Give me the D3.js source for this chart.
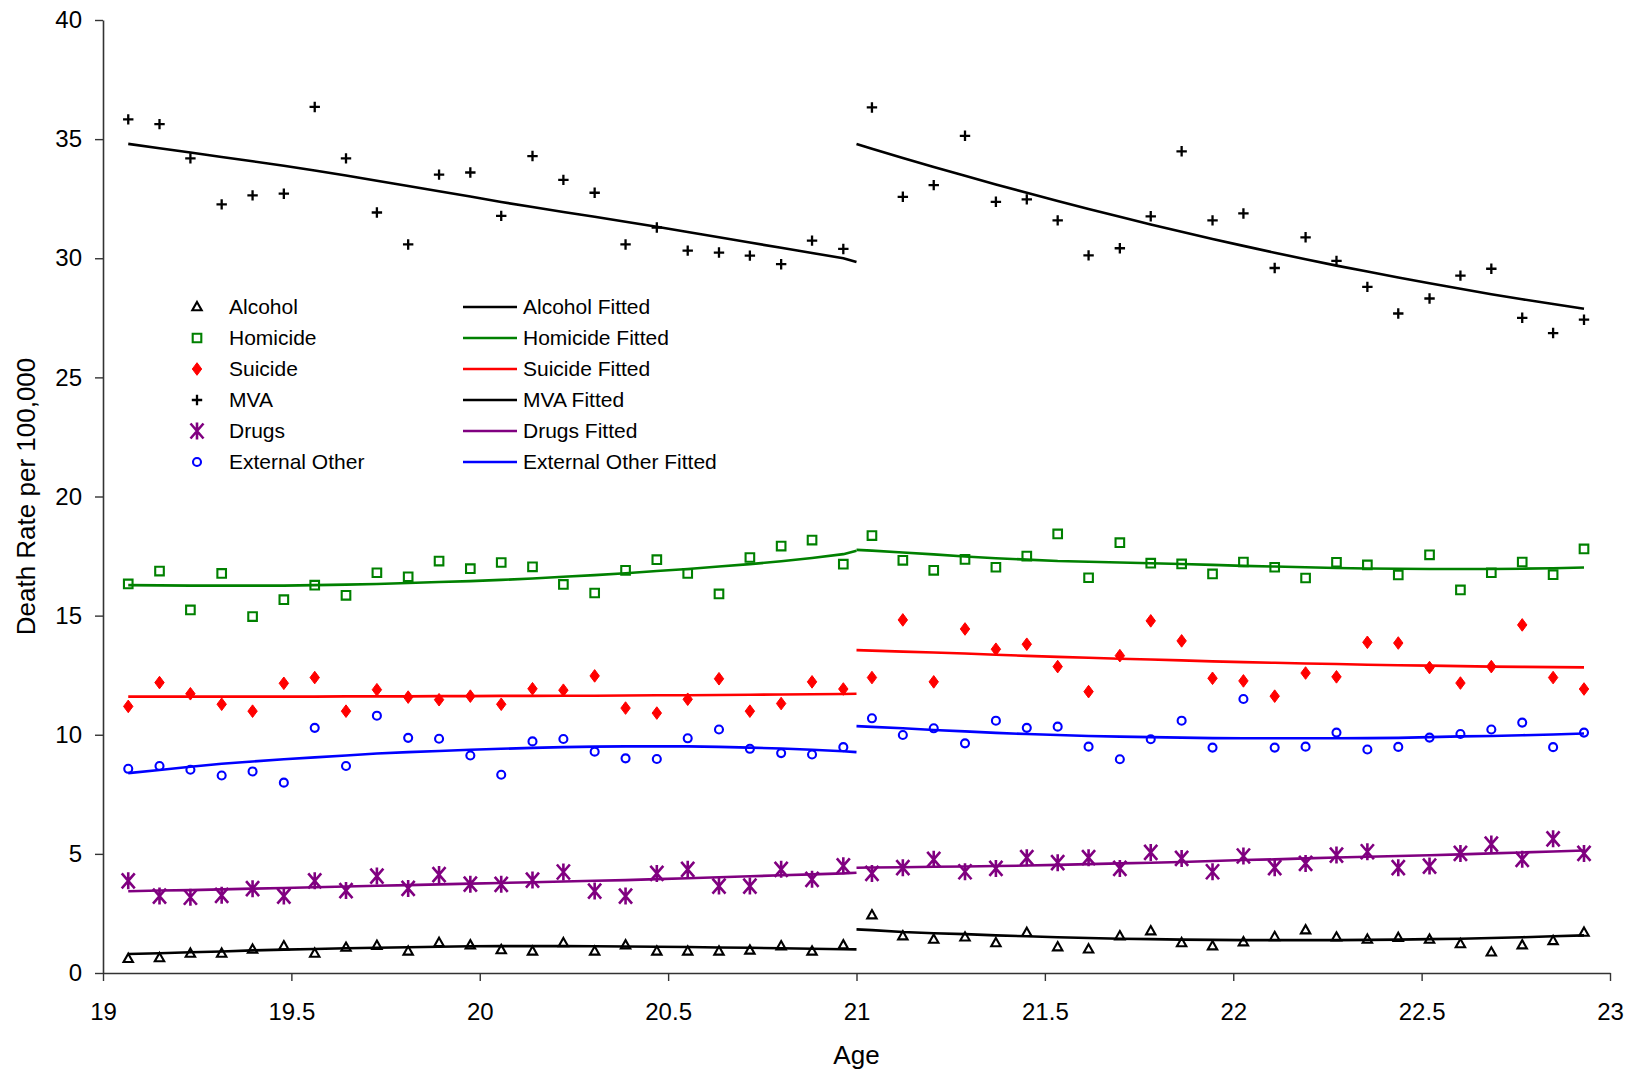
<!DOCTYPE html>
<html>
<head>
<meta charset="utf-8">
<script src="https://cdn.jsdelivr.net/npm/d3@7"></script>
<style>
  body { margin: 0; background: #fff; }
  text { font-family: "Liberation Sans", Arial, sans-serif; fill: #000; }
</style>
</head>
<body>
<div id="viz"></div>
<script>
// ages (bin midpoints) each side of 21
var ageLeft = [19.067, 19.150, 19.232, 19.315, 19.397, 19.480, 19.562, 19.645, 19.727, 19.810, 19.892, 19.975,
  20.057, 20.140, 20.222, 20.305, 20.387, 20.470, 20.552, 20.635, 20.717, 20.800, 20.882, 20.965]
var ageRight = [21.041, 21.123, 21.205, 21.288, 21.370, 21.452, 21.534, 21.616, 21.699, 21.781, 21.863, 21.945,
  22.027, 22.110, 22.192, 22.274, 22.356, 22.438, 22.521, 22.603, 22.685, 22.767, 22.849, 22.931]
var cutoff = 21

// observed rates (left 24 then right 24)
var alcohol = [0.60, 0.63, 0.82, 0.82, 0.99, 1.13, 0.82, 1.07, 1.15, 0.91, 1.27, 1.17, 0.97, 0.91, 1.26, 0.91, 1.17, 0.91, 0.91, 0.91, 0.95, 1.13, 0.91, 1.17,
  2.43, 1.55, 1.41, 1.50, 1.26, 1.69, 1.09, 1.00, 1.55, 1.76, 1.26, 1.13, 1.30, 1.52, 1.80, 1.50, 1.41, 1.48, 1.41, 1.22, 0.87, 1.17, 1.35, 1.70]
var homicide = [16.33, 16.87, 15.24, 16.77, 14.96, 15.67, 16.28, 15.85, 16.80, 16.63, 17.29, 16.97, 17.23, 17.05, 16.31, 15.95, 16.90, 17.35, 16.77, 15.91, 17.44, 17.92, 18.17, 17.16,
  18.36, 17.32, 16.90, 17.36, 17.03, 17.50, 18.43, 16.59, 18.06, 17.20, 17.17, 16.75, 17.25, 17.03, 16.58, 17.24, 17.13, 16.71, 17.55, 16.08, 16.80, 17.25, 16.72, 17.80]
var suicide = [11.19, 12.19, 11.72, 11.28, 10.99, 12.16, 12.40, 10.99, 11.89, 11.58, 11.47, 11.62, 11.28, 11.93, 11.87, 12.47, 11.12, 10.91, 11.49, 12.35, 10.99, 11.31, 12.22, 11.92,
  12.40, 14.82, 12.22, 14.44, 13.59, 13.80, 12.86, 11.81, 13.32, 14.78, 13.94, 12.37, 12.26, 11.62, 12.59, 12.43, 13.88, 13.85, 12.82, 12.17, 12.86, 14.61, 12.40, 11.92]
var mva = [35.83, 35.63, 34.19, 32.26, 32.64, 32.71, 36.35, 34.19, 31.92, 30.58, 33.51, 33.60, 31.78, 34.29, 33.29, 32.75, 30.58, 31.29, 30.32, 30.24, 30.11, 29.75, 30.74, 30.39,
  36.33, 32.58, 33.07, 35.14, 32.37, 32.47, 31.59, 30.12, 30.42, 31.76, 34.49, 31.59, 31.88, 29.59, 30.88, 29.89, 28.80, 27.68, 28.31, 29.27, 29.56, 27.50, 26.86, 27.42]
var drugs = [3.87, 3.23, 3.18, 3.26, 3.54, 3.23, 3.87, 3.46, 4.07, 3.55, 4.13, 3.73, 3.72, 3.90, 4.24, 3.44, 3.23, 4.18, 4.35, 3.65, 3.65, 4.35, 3.93, 4.50,
  4.18, 4.42, 4.77, 4.25, 4.39, 4.84, 4.63, 4.84, 4.39, 5.06, 4.81, 4.25, 4.91, 4.42, 4.60, 4.95, 5.09, 4.42, 4.49, 5.02, 5.41, 4.77, 5.63, 5.02]
var external = [8.57, 8.69, 8.53, 8.29, 8.46, 7.99, 10.29, 8.69, 10.80, 9.87, 9.83, 9.13, 8.32, 9.72, 9.82, 9.29, 9.01, 8.98, 9.85, 10.22, 9.41, 9.23, 9.17, 9.48,
  10.69, 9.99, 10.27, 9.64, 10.59, 10.29, 10.34, 9.50, 8.97, 9.81, 10.59, 9.46, 11.50, 9.46, 9.50, 10.09, 9.38, 9.49, 9.88, 10.03, 10.22, 10.51, 9.48, 10.09]

// fitted values: left = 24 ages then cutoff, right = cutoff then 24 ages
var alcFitL = [0.80, 0.83, 0.87, 0.90, 0.95, 0.98, 1.01, 1.04, 1.06, 1.08, 1.10, 1.12, 1.13, 1.13, 1.13, 1.12, 1.11, 1.10, 1.09, 1.07, 1.06, 1.04, 1.02, 1.00, 0.99]
var alcFitR = [1.83, 1.80, 1.72, 1.67, 1.63, 1.58, 1.54, 1.50, 1.47, 1.44, 1.42, 1.40, 1.39, 1.38, 1.38, 1.38, 1.38, 1.39, 1.40, 1.42, 1.44, 1.47, 1.50, 1.54, 1.58]
var homFitL = [16.28, 16.27, 16.26, 16.26, 16.26, 16.26, 16.28, 16.30, 16.33, 16.37, 16.41, 16.45, 16.50, 16.56, 16.63, 16.70, 16.78, 16.87, 16.96, 17.06, 17.16, 17.28, 17.42, 17.58, 17.72]
var homFitR = [17.76, 17.73, 17.65, 17.57, 17.48, 17.41, 17.35, 17.29, 17.26, 17.23, 17.20, 17.17, 17.13, 17.09, 17.06, 17.03, 17.00, 16.98, 16.97, 16.96, 16.96, 16.96, 16.97, 16.99, 17.02]
var sucFitL = [11.60, 11.60, 11.60, 11.60, 11.60, 11.60, 11.60, 11.61, 11.61, 11.61, 11.62, 11.62, 11.63, 11.63, 11.64, 11.64, 11.65, 11.66, 11.66, 11.67, 11.68, 11.69, 11.70, 11.71, 11.72]
var sucFitR = [13.55, 13.53, 13.49, 13.45, 13.41, 13.36, 13.31, 13.27, 13.23, 13.19, 13.16, 13.12, 13.08, 13.05, 13.02, 12.99, 12.97, 12.94, 12.92, 12.90, 12.88, 12.86, 12.85, 12.84, 12.83]
var mvaFitL = [34.80, 34.62, 34.44, 34.25, 34.07, 33.88, 33.68, 33.47, 33.25, 33.03, 32.81, 32.59, 32.36, 32.15, 31.94, 31.74, 31.53, 31.32, 31.10, 30.88, 30.66, 30.44, 30.22, 30.00, 29.84]
var mvaFitR = [34.80, 34.60, 34.21, 33.83, 33.46, 33.10, 32.75, 32.40, 32.07, 31.74, 31.42, 31.11, 30.81, 30.52, 30.23, 29.96, 29.69, 29.44, 29.19, 28.95, 28.72, 28.49, 28.28, 28.08, 27.88]
var drugFitL = [3.43, 3.46, 3.48, 3.51, 3.54, 3.57, 3.60, 3.63, 3.66, 3.69, 3.72, 3.75, 3.78, 3.81, 3.84, 3.87, 3.90, 3.94, 3.98, 4.02, 4.06, 4.10, 4.14, 4.18, 4.21]
var drugFitR = [4.42, 4.43, 4.44, 4.46, 4.47, 4.49, 4.51, 4.54, 4.57, 4.60, 4.63, 4.66, 4.70, 4.74, 4.77, 4.81, 4.85, 4.88, 4.91, 4.94, 4.98, 5.02, 5.06, 5.10, 5.14]
var extFitL = [8.39, 8.52, 8.66, 8.78, 8.88, 8.97, 9.05, 9.13, 9.21, 9.27, 9.32, 9.37, 9.41, 9.45, 9.48, 9.50, 9.51, 9.51, 9.51, 9.49, 9.46, 9.42, 9.37, 9.31, 9.27]
var extFitR = [10.36, 10.33, 10.27, 10.20, 10.14, 10.08, 10.03, 9.99, 9.95, 9.92, 9.90, 9.88, 9.86, 9.85, 9.85, 9.85, 9.85, 9.86, 9.87, 9.90, 9.93, 9.95, 9.98, 10.01, 10.05]

var xTicks = [19, 19.5, 20, 20.5, 21, 21.5, 22, 22.5, 23]
var yTicks = [0, 5, 10, 15, 20, 25, 30, 35, 40]

var series = [
  {name: "Alcohol", values: alcohol, fitL: alcFitL, fitR: alcFitR, color: "#000000", marker: "triangle"},
  {name: "Homicide", values: homicide, fitL: homFitL, fitR: homFitR, color: "#008000", marker: "square"},
  {name: "Suicide", values: suicide, fitL: sucFitL, fitR: sucFitR, color: "#FF0000", marker: "diamond"},
  {name: "MVA", values: mva, fitL: mvaFitL, fitR: mvaFitR, color: "#000000", marker: "plus"},
  {name: "Drugs", values: drugs, fitL: drugFitL, fitR: drugFitR, color: "#800080", marker: "star"},
  {name: "External Other", values: external, fitL: extFitL, fitR: extFitR, color: "#0000FF", marker: "circle"}
]

var W = 1632, H = 1073
var margin = {top: 20, left: 103, right: 22, bottom: 100}
var width = W - margin.left - margin.right
var height = H - margin.top - margin.bottom

var svg = d3.select("#viz").append("svg")
  .attr("width", W)
  .attr("height", H)

var g = svg.append("g")
  .attr("transform", "translate(" + margin.left + "," + margin.top + ")")

var xScale = d3.scaleLinear().domain([19, 23]).range([0, width])
var yScale = d3.scaleLinear().domain([0, 40]).range([height, 0])

// marker drawing ---------------------------------
function markerPath(type) {
  if (type == "triangle") return "M0,-5L4.7,3.3L-4.7,3.3Z"
  if (type == "square") return "M-4.3,-4.3H4.3V4.3H-4.3Z"
  if (type == "diamond") return "M0,-6.3L4.7,0L0,6.3L-4.7,0Z"
  if (type == "plus") return "M-5.2,0H5.2M0,-5.2V5.2"
  if (type == "star") return "M-6.5,-7.5L6.5,7.5M-6.5,7.5L6.5,-7.5M0,-8.5V8.5"
  if (type == "circle") return "M4,0A4,4 0 1,1 -4,0A4,4 0 1,1 4,0Z"
}

function styleMarker(sel, s) {
  var filled = s.marker == "diamond"
  var sw = 2.1
  if (s.marker == "star") sw = 2.6
  if (s.marker == "plus") sw = 2.3
  if (filled) sw = 1
  sel.attr("d", markerPath(s.marker))
    .attr("fill", filled ? s.color : "none")
    .attr("stroke", s.color)
    .attr("stroke-width", sw)
    .attr("stroke-linejoin", "miter")
}

var allAges = ageLeft.concat(ageRight)
var fitAgesL = ageLeft.concat([cutoff])
var fitAgesR = [cutoff].concat(ageRight)

// Axes -------------------------------------------
var x_axis = d3.axisBottom(xScale)
  .tickValues(xTicks)
  .tickSize(8)
  .tickSizeOuter(0)
  .tickFormat(d3.format("~g"))

var y_axis = d3.axisLeft(yScale)
  .tickValues(yTicks)
  .tickSize(8)
  .tickSizeOuter(0)

var gx = g.append("g")
  .attr("transform", "translate(0," + height + ")")
  .call(x_axis)
gx.select(".domain").attr("stroke", "#333").attr("stroke-width", 1.6)
gx.selectAll(".tick line").attr("stroke", "#333").attr("stroke-width", 1.4)
gx.selectAll(".tick text")
  .attr("y", 30)
  .attr("dy", "0.71em")
  .style("font-size", "24px")
  .style("font-family", "Liberation Sans, Arial, sans-serif")
  .attr("fill", "#000")

var gy = g.append("g").call(y_axis)
gy.select(".domain").attr("stroke", "#333").attr("stroke-width", 1.6)
gy.selectAll(".tick line").attr("stroke", "#333").attr("stroke-width", 1.4)
gy.selectAll(".tick text")
  .attr("x", -21)
  .style("font-size", "24px")
  .style("font-family", "Liberation Sans, Arial, sans-serif")
  .attr("fill", "#000")

// axis titles
svg.append("text")
  .attr("x", margin.left + width / 2)
  .attr("y", 1064)
  .attr("text-anchor", "middle")
  .style("font-size", "26px")
  .text("Age")

svg.append("text")
  .attr("transform", "translate(35," + (margin.top + height / 2) + ") rotate(-90)")
  .attr("text-anchor", "middle")
  .style("font-size", "26px")
  .text("Death Rate per 100,000")

// Points -----------------------------------------
series.forEach(function(s) {
  g.append("g")
    .selectAll("path")
    .data(s.values)
    .enter()
    .append("path")
      .attr("transform", function(d, i) { return "translate(" + xScale(allAges[i]) + "," + yScale(d) + ")" })
      .call(styleMarker, s)
})

// Fitted lines -----------------------------------
var line = d3.line()
  .x(function(d) { return xScale(d[0]) })
  .y(function(d) { return yScale(d[1]) })

series.forEach(function(s) {
  var left = s.fitL.map(function(v, i) { return [fitAgesL[i], v] })
  var right = s.fitR.map(function(v, i) { return [fitAgesR[i], v] })
  ;[left, right].forEach(function(part) {
    g.append("path")
      .datum(part)
      .attr("d", line)
      .attr("fill", "none")
      .attr("stroke", s.color)
      .attr("stroke-width", 2.6)
      .attr("stroke-linejoin", "round")
  })
})

// Legend -----------------------------------------
var legend = svg.append("g").attr("id", "legend")
var rowY = 307, rowStep = 31

series.forEach(function(s, i) {
  var y = rowY + i * rowStep
  legend.append("path")
    .attr("transform", "translate(197," + y + ")")
    .call(styleMarker, s)
  legend.append("text")
    .attr("x", 229)
    .attr("y", y)
    .attr("dy", "0.35em")
    .style("font-size", "21px")
    .text(s.name)
  legend.append("line")
    .attr("x1", 463).attr("x2", 517)
    .attr("y1", y).attr("y2", y)
    .attr("stroke", s.color)
    .attr("stroke-width", 2.6)
  legend.append("text")
    .attr("x", 523)
    .attr("y", y)
    .attr("dy", "0.35em")
    .style("font-size", "21px")
    .text(s.name + " Fitted")
})
</script>
</body>
</html>
